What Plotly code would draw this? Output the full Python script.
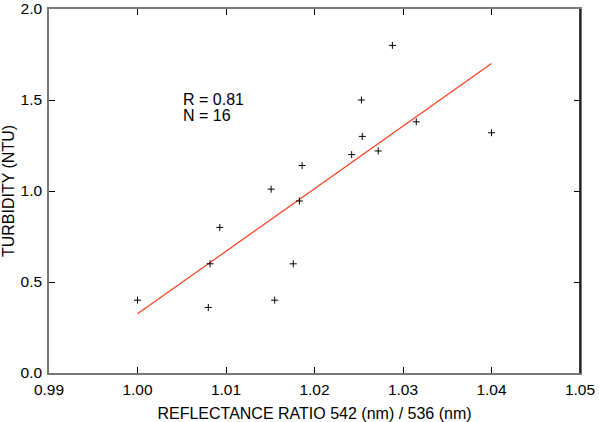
import plotly.graph_objects as go

# reflectance ratio 542/536 vs turbidity
ratio = [1.0000, 1.0080, 1.0082, 1.0093, 1.0151, 1.0155, 1.0176, 1.0183,
         1.0186, 1.0242, 1.0288, 1.0253, 1.0254, 1.0272, 1.0315, 1.0400]
turbidity = [0.40, 0.36, 0.60, 0.80, 1.01, 0.40, 0.60, 0.945,
             1.14, 1.20, 1.80, 1.50, 1.30, 1.22, 1.38, 1.32]

# regression line end points as drawn
fit_x = [1.00, 1.04]
fit_y = [0.325, 1.70]

x_ticks = [0.99, 1.00, 1.01, 1.02, 1.03, 1.04, 1.05]
y_ticks = [0.0, 0.5, 1.0, 1.5, 2.0]

FONT = "Liberation Sans, Arial, Helvetica, sans-serif"

fig = go.Figure()
fig.add_trace(go.Scatter(
    x=fit_x, y=fit_y, mode="lines",
    line=dict(color="#ff3d1f", width=1.2),
    hoverinfo="skip",
))
fig.add_trace(go.Scatter(
    x=ratio, y=turbidity, mode="markers",
    marker=dict(symbol="cross-thin", size=5, line=dict(color="black", width=1)),
))

# stats text, two lines set close together like the original
for txt, yv in [("R = 0.81", 1.502), ("N = 16", 1.416)]:
    fig.add_annotation(
        x=1.0049, y=yv, xref="x", yref="y", xanchor="left", yanchor="middle",
        text=txt, showarrow=False,
        font=dict(size=16, color="black", family=FONT),
    )

axis_common = dict(
    showgrid=False, zeroline=False, showline=True, linecolor="#777777",
    linewidth=1.5, mirror="ticks", ticks="inside", ticklen=6, automargin=False,
    tickcolor="black", tickwidth=1, tickfont=dict(size=15.5, color="black", family=FONT),
)

fig.update_xaxes(
    range=[0.99, 1.05], tickvals=x_ticks, tickformat=".2f",
    title=dict(text="REFLECTANCE RATIO 542 (nm) / 536 (nm)",
               font=dict(size=16, color="black", family=FONT)),
    ticklabelstandoff=2,
    **axis_common,
)
fig.update_yaxes(
    range=[0.0, 2.0], tickvals=y_ticks, tickformat=".1f",
    title=dict(text="TURBIDITY (NTU)",
               font=dict(size=16, color="black", family=FONT)),
    ticklabelstandoff=2,
    **axis_common,
)

# right spine is drawn black in the original
fig.add_shape(type="line", xref="paper", yref="paper", x0=1, x1=1, y0=0, y1=1,
              line=dict(color="black", width=1.5))

fig.update_layout(
    width=599, height=422,
    margin=dict(l=49, r=19, t=9, b=49),
    showlegend=False,
    paper_bgcolor="white", plot_bgcolor="white",
    font=dict(family=FONT, color="black"),
)

fig.write_html(
    "out.html",
    config={"displayModeBar": False},
    post_script="document.body.style.margin='0';document.body.style.overflow='hidden';",
)
